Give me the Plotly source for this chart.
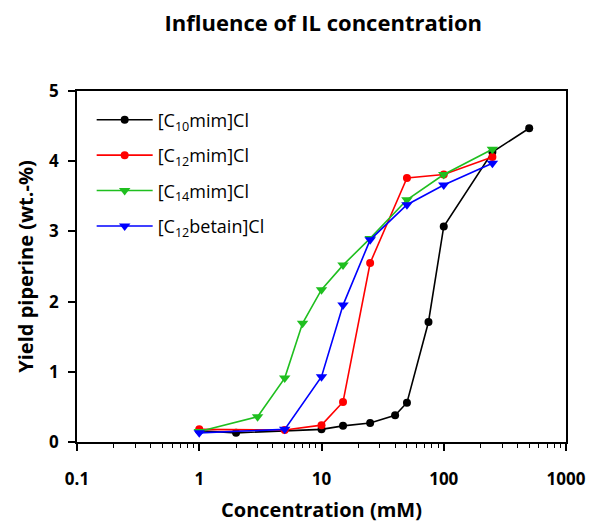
import plotly.graph_objects as go

# Data
c10_x = [1, 2, 10, 15, 25, 40, 50, 75, 100, 250, 500]
c10_y = [0.16, 0.13, 0.18, 0.23, 0.27, 0.38, 0.56, 1.71, 3.07, 4.13, 4.47]

c12_x = [1, 5, 10, 15, 25, 50, 100, 250]
c12_y = [0.18, 0.17, 0.24, 0.57, 2.55, 3.76, 3.81, 4.06]

c14_x = [1, 3, 5, 7, 10, 15, 25, 50, 100, 250]
c14_y = [0.15, 0.36, 0.91, 1.69, 2.17, 2.52, 2.90, 3.45, 3.81, 4.17]

bet_x = [1, 5, 10, 15, 25, 50, 100, 250]
bet_y = [0.13, 0.18, 0.93, 1.95, 2.88, 3.38, 3.66, 3.97]

x_ticks = [0.1, 1, 10, 100, 1000]
x_ticktext = ["0.1", "1", "10", "100", "1000"]
y_ticks = [0, 1, 2, 3, 4, 5]

series = [
    ("[C<sub>10</sub>mim]Cl", c10_x, c10_y, "black", "circle", 8),
    ("[C<sub>12</sub>mim]Cl", c12_x, c12_y, "red", "circle", 8),
    ("[C<sub>14</sub>mim]Cl", c14_x, c14_y, "#1fbf1f", "triangle-down", 10),
    ("[C<sub>12</sub>betain]Cl", bet_x, bet_y, "blue", "triangle-down", 10),
]

fig = go.Figure()
for i, (name, xs, ys, col, sym, sz) in enumerate(series):
    fig.add_trace(go.Scatter(
        x=xs, y=ys, name=name, mode="lines+markers", legendgroup=f"g{i}",
        line=dict(color=col, width=1.6),
        marker=dict(color=col, symbol=sym, size=sz, line=dict(width=0)),
    ))

minor_vals = []
for d in [0.1, 1, 10, 100]:
    for k in range(2, 10):
        minor_vals.append(round(d * k, 6))

font_fam = "'Open Sans', sans-serif"

fig.update_layout(
    width=590, height=524,
    margin=dict(l=77, r=24, t=91, b=82),
    paper_bgcolor="white", plot_bgcolor="white",
    font=dict(family=font_fam, color="black"),
    title=dict(text="Influence of IL concentration", x=0.548, xanchor="center",
               y=0.955, yanchor="middle",
               font=dict(size=22, color="black", family=font_fam, weight="bold")),
    showlegend=True,
    legend=dict(x=0.03, y=0.97, xanchor="left", yanchor="top",
                bgcolor="rgba(0,0,0,0)", font=dict(size=18, color="black", family=font_fam),
                tracegroupgap=9, itemwidth=56, traceorder="grouped"),
    xaxis=dict(
        type="log", range=[-1, 3], automargin=False,
        tickmode="array", tickvals=x_ticks, ticktext=x_ticktext,
        ticks="outside", ticklen=7, tickwidth=1.5, tickcolor="black",
        showline=True, linecolor="black", linewidth=1.5, mirror=True,
        showgrid=False, zeroline=False,
        tickfont=dict(size=17, color="black", family=font_fam, weight="bold"),
        ticklabelstandoff=14,
        minor=dict(tickmode="array", tickvals=minor_vals, ticks="outside",
                   ticklen=4, tickwidth=1.2, tickcolor="black", showgrid=False),
        title=dict(text="Concentration (mM)",
                   font=dict(size=20, color="black", family=font_fam, weight="bold"),
                   standoff=14),
    ),
    yaxis=dict(
        range=[0, 5], tickmode="array", tickvals=y_ticks, automargin=False,
        ticks="outside", ticklen=7, tickwidth=1.5, tickcolor="black",
        showline=True, linecolor="black", linewidth=1.5, mirror=True,
        showgrid=False, zeroline=False,
        tickfont=dict(size=17, color="black", family=font_fam, weight="bold"),
        ticklabelstandoff=6,
        title=dict(text="Yield piperine (wt.-%)",
                   font=dict(size=20, color="black", family=font_fam, weight="bold"),
                   standoff=10),
    ),
)

fig.write_html("out.html")
